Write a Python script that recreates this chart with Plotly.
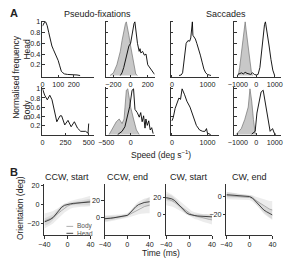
import plotly.graph_objects as go

W, H = 287, 259

# ---------------- Panel A data ----------------
# Row 1: Head
head_pf_speed_x = [0, 10, 20, 30, 40, 50, 60, 70, 80, 90, 100, 110, 120, 130, 140, 160, 180, 200, 220, 240]
head_pf_speed_y = [0.92, 0.98, 1.0, 0.93, 0.8, 0.66, 0.55, 0.48, 0.42, 0.35, 0.28, 0.18, 0.08, 0.05, 0.03, 0.02, 0.02, 0.01, 0.01, 0.0]

head_pf_ang_gray_x = [-240, -200, -160, -120, -100, -80, -60, -50, -40, -20, 0, 20, 40, 60, 80]
head_pf_ang_gray_y = [0, 0.05, 0.2, 0.45, 0.65, 0.85, 0.97, 1.0, 0.93, 0.75, 0.55, 0.35, 0.15, 0.03, 0]
head_pf_ang_black_x = [-120, -100, -80, -60, -40, -20, 0, 20, 30, 40, 50, 60, 80, 100, 110, 120, 140, 160, 180, 200, 220, 240, 260, 280]
head_pf_ang_black_y = [0, 0.05, 0.15, 0.3, 0.45, 0.55, 0.6, 0.8, 0.95, 0.97, 1.0, 0.85, 0.6, 0.45, 0.5, 0.42, 0.45, 0.38, 0.4, 0.2, 0.15, 0.1, 0.05, 0.02]

head_sac_speed_x = [200, 260, 300, 350, 400, 450, 500, 530, 560, 575, 590, 620, 660, 700, 750, 800, 850, 900, 950, 1000, 1050, 1100]
head_sac_speed_y = [0, 0.01, 0.05, 0.3, 0.6, 0.65, 0.64, 0.7, 0.9, 1.0, 0.75, 0.72, 0.68, 0.6, 0.5, 0.38, 0.25, 0.12, 0.05, 0.02, 0.01, 0]

head_sac_ang_gray_x = [-1000, -950, -900, -850, -800, -750, -700, -650, -600, -550, -500, -450, -400, -350, -300, -250, -200]
head_sac_ang_gray_y = [0, 0.05, 0.15, 0.3, 0.5, 0.6, 0.75, 0.9, 1.0, 0.85, 0.7, 0.55, 0.4, 0.25, 0.1, 0.03, 0]
head_sac_ang_black_x = [-1000, -900, -800, -700, -600, -500, -400, -300, -200, -100, 0, 100, 200, 300, 400, 450, 500, 550, 600, 700, 800, 900, 1000]
head_sac_ang_black_y = [0.02, 0.03, 0.05, 0.03, 0.06, 0.04, 0.03, 0.02, 0.05, 0.02, 0.01, 0.02, 0.15, 0.5, 0.85, 0.95, 1.0, 0.9, 0.8, 0.55, 0.3, 0.1, 0.0]

# Row 2: Body
body_pf_speed_x = [0, 24, 52, 79, 103, 138, 155, 190, 207, 241, 276, 310, 345, 379, 414, 466, 493, 500]
body_pf_speed_y = [1.0, 0.86, 0.76, 0.86, 0.76, 0.48, 0.28, 0.41, 0.41, 0.21, 0.31, 0.17, 0.28, 0.14, 0.07, 0.07, 0.03, 0.24]

body_pf_ang_gray_x = [-441, -353, -294, -235, -176, -135, -88, -59, 0, 59, 118, 176]
body_pf_ang_gray_y = [0, 0.17, 0.28, 0.34, 0.24, 0.34, 0.97, 1.0, 0.6, 0.34, 0.1, 0]
body_pf_ang_black_x = [-265, -176, -118, -59, -18, 29, 59, 88, 135, 176, 206, 235, 265, 294, 312, 340, 370, 400, 430, 460]
body_pf_ang_black_y = [0, 0.07, 0.17, 0.41, 0.62, 0.97, 1.0, 0.55, 0.48, 0.38, 0.48, 0.28, 0.41, 0.14, 0.34, 0.2, 0.3, 0.1, 0.15, 0.02]

body_sac_speed_x = [0, 36, 89, 152, 196, 241, 286, 357, 420, 509, 598, 688, 777, 866, 929, 973, 1000, 1090]
body_sac_speed_y = [0.3, 0.37, 0.57, 0.73, 0.8, 0.77, 1.0, 0.87, 0.73, 0.6, 0.4, 0.2, 0.1, 0.07, 0.07, 0.13, 0.03, 0]

body_sac_ang_gray_x = [-1094, -811, -623, -434, -340, -245, -151, -57, 0]
body_sac_ang_gray_y = [0, 0.13, 0.33, 0.6, 1.0, 0.73, 0.33, 0.03, 0]
body_sac_ang_black_x = [-245, -57, 38, 189, 264, 377, 453, 604, 755, 887, 981, 1075]
body_sac_ang_black_y = [0.01, 0.07, 0.47, 0.8, 0.93, 0.97, 0.8, 0.4, 0.07, 0.13, 0.03, 0]

# ---------------- Panel B data ----------------
time_ms = [-40, -35, -30, -25, -20, -15, -10, -5, 0, 5, 10, 15, 20, 25, 30, 35, 40]

ccw_start_head = [-18, -17, -15.5, -13.5, -10, -6, -2.5, -0.5, 0.5, 1, 1.5, 1.8, 2, 2.2, 2.5, 2.7, 3]
ccw_start_body = [-17, -16, -14.5, -13, -11, -8.5, -6, -3.5, -1.5, 0, 1, 1.5, 2, 2.5, 3, 3.5, 4]
ccw_end_head = [-2, -2, -1.5, -1, -0.5, 0, 0.5, 1, 2, 5, 9, 12.5, 15, 16.5, 17.5, 18, 18.5]
ccw_end_body = [-2, -1.8, -1.5, -1, -0.5, 0, 0.5, 1, 2, 3.5, 5.5, 7.5, 9.5, 11, 12.5, 13.5, 14.5]
cw_start_head = [20, 19.5, 18.5, 16.5, 13, 9, 5.5, 2.5, 0.5, -0.5, -1, -1.5, -1.8, -2, -2.2, -2.4, -2.5]
cw_start_body = [19, 18, 16.5, 14.5, 12, 9.5, 7, 4.5, 2, 0, -1, -2, -3, -4, -4.5, -5.5, -6]
cw_end_head = [2, 1.8, 1.5, 1.2, 1, 0.8, 0.5, 0.2, 0, -1.5, -5, -9, -12.5, -15, -17, -19, -20.5]
cw_end_body = [1, 0.8, 0.5, 0.3, 0, -0.3, -0.5, -0.8, -1, -2, -4, -6, -8.5, -10.5, -12.5, -14, -15]

sd_start_head = [4, 4, 3.5, 3, 3, 2.5, 2, 2, 1.5, 1.5, 2, 2, 2.5, 2.5, 3, 3, 3.5]
sd_start_body = [8, 7.5, 7, 6.5, 6, 5.5, 5, 4.5, 4, 4, 4, 4, 4.5, 4.5, 5, 5, 5.5]
sd_end_head = [3, 3, 2.5, 2.5, 2, 2, 2, 1.5, 1.5, 2, 2.5, 3, 3.5, 4, 4.5, 5, 5.5]
sd_end_body = [4, 4, 3.5, 3.5, 3, 3, 3, 3, 3, 3.5, 4, 5, 6, 7, 8, 9, 10]

# ---------------- layout helpers ----------------
FONT = "Liberation Sans"
TXT = "#222"
AX = "#333"

def px(x):
    return x / W

def py(y):
    return 1 - y / H

fig = go.Figure()
layout = {}

def axis_name(k, a):
    return f"{a}axis" if k == 1 else f"{a}axis{k}"

def ref(k, a):
    return a if k == 1 else f"{a}{k}"

def make_axes(k, xd, yd, xr, yr, xt, yt, ylabels, ticks):
    common = dict(showline=True, linecolor=AX, linewidth=0.8, ticks=ticks,
                  ticklen=2.5, tickwidth=0.8, tickcolor=AX, showgrid=False,
                  zeroline=False, tickfont=dict(family=FONT, size=7.2, color=TXT),
                  fixedrange=True, tickangle=0)
    layout[axis_name(k, "x")] = dict(common, domain=[px(xd[0]), px(xd[1])], range=xr,
                                     tickvals=xt, anchor=ref(k, "y"))
    layout[axis_name(k, "y")] = dict(common, domain=[py(yd[1]), py(yd[0])], range=yr,
                                     tickvals=yt, showticklabels=ylabels,
                                     anchor=ref(k, "x"))

cols_a = [(36, 90), (102, 153), (170, 220), (236, 285)]
row1 = (18, 75)
row2 = (85, 134)
yt_a = [0.2, 0.4, 0.6, 0.8, 1]

xr_row1 = [[0, 330], [-290, 280], [-30, 1320], [-1200, 1350]]
xr_row2 = [[0, 560], [-510, 490], [-30, 1320], [-1200, 1350]]
xt_row1 = [[0, 100, 200], [-200, 0, 200], [0, 1000], [-1000, 0, 1000]]
xt_row2 = [[0, 250, 500], [-500, 0, 500], [0, 1000], [-1000, 0, 1000]]

for i in range(4):
    make_axes(i + 1, cols_a[i], row1, xr_row1[i], [-0.03, 1.02], xt_row1[i], yt_a, i == 0, "inside")
    make_axes(i + 5, cols_a[i], row2, xr_row2[i], [-0.02, 1.04], xt_row2[i], yt_a, i == 0, "inside")

def line(k, x, y, color="black", width=0.9):
    fig.add_trace(go.Scatter(x=x, y=y, mode="lines", line=dict(color=color, width=width),
                             xaxis=ref(k, "x"), yaxis=ref(k, "y"), showlegend=False,
                             hoverinfo="skip"))

def gray(k, x, y):
    fig.add_trace(go.Scatter(x=x, y=y, mode="lines", fill="tozeroy",
                             fillcolor="rgb(200,200,200)",
                             line=dict(color="rgb(115,115,115)", width=0.7),
                             xaxis=ref(k, "x"), yaxis=ref(k, "y"), showlegend=False,
                             hoverinfo="skip"))

line(1, head_pf_speed_x, head_pf_speed_y)
gray(2, head_pf_ang_gray_x, head_pf_ang_gray_y)
line(2, head_pf_ang_black_x, head_pf_ang_black_y)
line(3, head_sac_speed_x, head_sac_speed_y)
gray(4, head_sac_ang_gray_x, head_sac_ang_gray_y)
line(4, head_sac_ang_black_x, head_sac_ang_black_y)

line(5, body_pf_speed_x, body_pf_speed_y)
gray(6, body_pf_ang_gray_x, body_pf_ang_gray_y)
line(6, body_pf_ang_black_x, body_pf_ang_black_y)
line(7, body_sac_speed_x, body_sac_speed_y)
gray(8, body_sac_ang_gray_x, body_sac_ang_gray_y)
line(8, body_sac_ang_black_x, body_sac_ang_black_y)

# ---------------- Panel B ----------------
cols_b = [(38, 86), (101, 148), (165, 213), (228, 276)]
row_b = (183, 235)
yr_b = [[-32, 22], [-22, 40], [-24, 36], [-43, 14]]
yt_b = [[-20, 0, 20], [0, 20], [0, 20], [-20, 0]]
b_head = [ccw_start_head, ccw_end_head, cw_start_head, cw_end_head]
b_body = [ccw_start_body, ccw_end_body, cw_start_body, cw_end_body]
b_sdh = [sd_start_head, sd_end_head, sd_start_head, sd_end_head]
b_sdb = [sd_start_body, sd_end_body, sd_start_body, sd_end_body]

def band(k, t, m, s, color):
    up = [a + b for a, b in zip(m, s)]
    lo = [a - b for a, b in zip(m, s)]
    fig.add_trace(go.Scatter(x=t, y=up, mode="lines", line=dict(width=0),
                             xaxis=ref(k, "x"), yaxis=ref(k, "y"), showlegend=False,
                             hoverinfo="skip"))
    fig.add_trace(go.Scatter(x=t, y=lo, mode="lines", line=dict(width=0), fill="tonexty",
                             fillcolor=color, xaxis=ref(k, "x"), yaxis=ref(k, "y"),
                             showlegend=False, hoverinfo="skip"))

for i in range(4):
    k = 9 + i
    make_axes(k, cols_b[i], row_b, [-40, 40], yr_b[i], [-40, 0, 40], yt_b[i], True, "outside")
    band(k, time_ms, b_body[i], b_sdb[i], "rgba(170,170,170,0.22)")
    band(k, time_ms, b_head[i], b_sdh[i], "rgba(170,170,170,0.28)")
    line(k, time_ms, b_body[i], color="rgb(165,165,165)", width=0.9)
    line(k, time_ms, b_head[i], color="rgb(50,50,50)", width=0.9)

# ---------------- annotations ----------------
ann = []
def text(x, y, s, size=9, angle=0, color=TXT, xanchor="center"):
    ann.append(dict(x=px(x), y=py(y), xref="paper", yref="paper", text=s, showarrow=False,
                    textangle=angle, xanchor=xanchor, yanchor="middle",
                    font=dict(family=FONT, size=size, color=color)))

text(6, 10, "<b>A</b>", size=11)
text(6, 171, "<b>B</b>", size=11)
text(93, 11, "Pseudo-fixations")
text(228, 11, "Saccades")
text(8, 75, "Normalised frequency", angle=-90, size=8.5)
text(20, 47, "Head", angle=-90, size=8.5)
text(20, 108, "Body", angle=-90, size=8.5)
text(160, 153, "Speed (deg s<sup>−1</sup>)", size=8.5)
text(62, 176, "CCW, start")
text(125, 176, "CCW, end")
text(189, 176, "CW, start")
text(252, 176, "CW, end")
text(12, 207, "Orientation (deg)", angle=-90, size=8.5)
text(160, 253, "Time (ms)", size=8.5)
text(70, 226, "Body", size=6.5, color="#555", xanchor="left")
text(70, 233, "Head", size=6.5, color="#555", xanchor="left")

shapes = [
    dict(type="line", xref="paper", yref="paper", x0=px(61), x1=px(68), y0=py(226), y1=py(226),
         line=dict(color="rgb(165,165,165)", width=0.9)),
    dict(type="line", xref="paper", yref="paper", x0=px(61), x1=px(68), y0=py(233), y1=py(233),
         line=dict(color="rgb(50,50,50)", width=0.9)),
]

fig.update_layout(**layout)
fig.update_layout(width=W, height=H, margin=dict(l=0, r=0, t=0, b=0),
                  paper_bgcolor="white", plot_bgcolor="white",
                  annotations=ann, shapes=shapes, showlegend=False)

fig.write_html("out.html", config={"displayModeBar": False})
